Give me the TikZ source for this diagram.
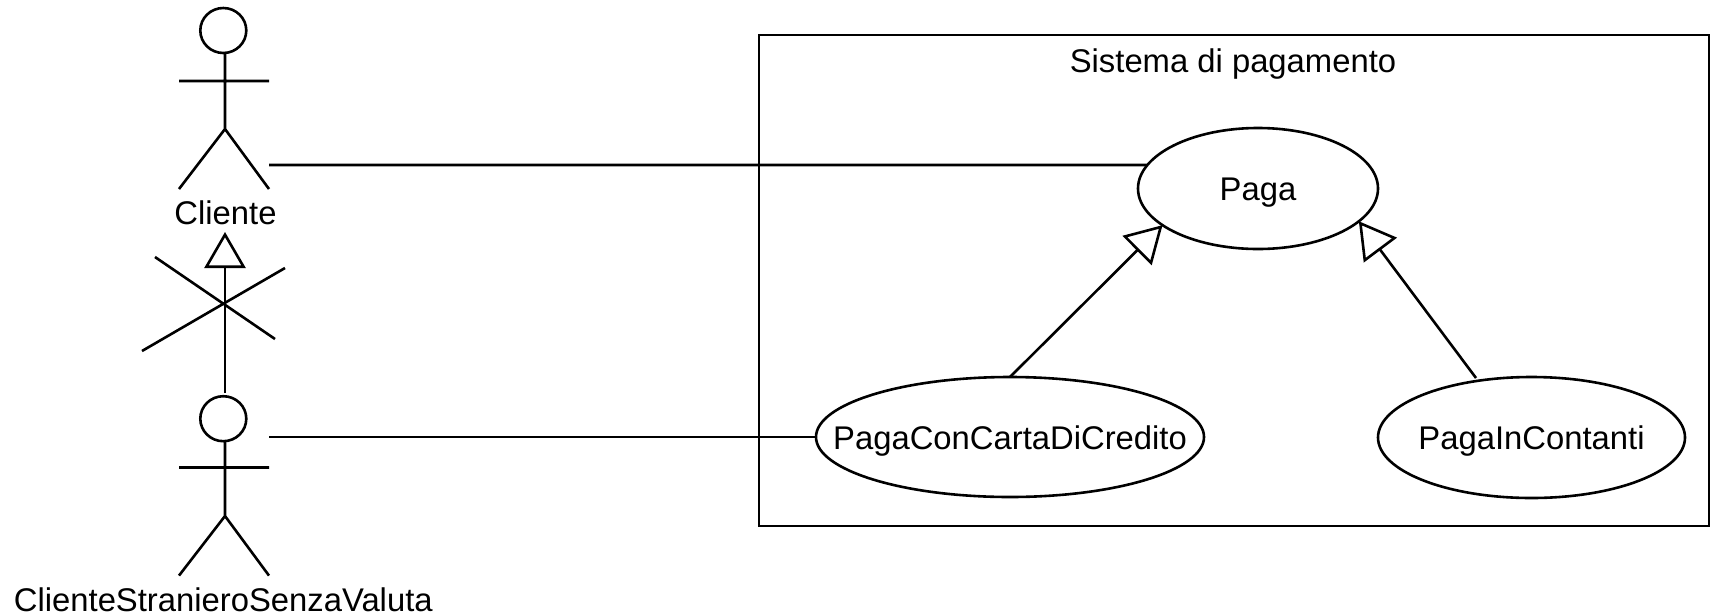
\documentclass[tikz,border=0pt]{standalone}
\usepackage{fontspec}
\setmainfont{Liberation Sans}
\usetikzlibrary{shapes.geometric,arrows.meta}
\newcommand{\casetext}[1]{\makebox[0pt][c]{#1}}
\tikzset{
  every node/.style={font=\fontsize{32.8}{36}\selectfont},
  umlline/.style={line width=2.6pt,draw=black},
  usecase/.style={ellipse,umlline,inner sep=0pt,outer sep=0pt,text height=24pt,text depth=0pt},
  actorhead/.style={ellipse,umlline,inner sep=0pt,outer sep=0pt,minimum width=46pt,minimum height=45pt},
  plainlabel/.style={anchor=base,inner sep=0pt},
  systembox/.style={rectangle,umlline,inner sep=0pt,outer sep=0pt},
  generalize/.style={umlline,-{Triangle[open,fill=white,length=36pt,width=41pt,line width=2.6pt]}}
}
\begin{document}
\begin{tikzpicture}[x=1pt,y=-1pt]
\useasboundingbox (0,0) rectangle (1711,614);
% system
\node[systembox,minimum width=950pt,minimum height=491pt] (sys) at (1234,280.5) {};
\node[plainlabel] (systitle) at (1233,72) {Sistema di pagamento};
% use cases
\node[usecase,minimum width=240pt,minimum height=121pt] (paga) at (1258,188.5) {\casetext{Paga}};
\node[usecase,minimum width=388pt,minimum height=120pt] (carta) at (1010,437) {\casetext{PagaConCartaDiCredito}};
\node[usecase,minimum width=307pt,minimum height=121pt] (contanti) at (1531.5,437.5) {\casetext{PagaInContanti}};
% actor Cliente
\node[actorhead] (h1) at (223.3,30.5) {};
\coordinate (n1) at (225,53);
\coordinate (hip1) at (225,129);
\coordinate (al1) at (179,81);
\coordinate (ar1) at (269,81);
\coordinate (fl1) at (179,189);
\coordinate (fr1) at (269,189);
\draw[umlline] (n1) -- (hip1) (al1) -- (ar1) (fl1) -- (hip1) -- (fr1);
\node[plainlabel] (l1) at (225.5,224) {Cliente};
% actor ClienteStranieroSenzaValuta
\node[actorhead] (h2) at (223.3,418.7) {};
\coordinate (n2) at (225,441.7);
\coordinate (hip2) at (225,516);
\coordinate (al2) at (179,467.5);
\coordinate (ar2) at (269,467.5);
\coordinate (fl2) at (179,575.6);
\coordinate (fr2) at (269,575.6);
\draw[umlline] (n2) -- (hip2) (al2) -- (ar2) (fl2) -- (hip2) -- (fr2);
\node[plainlabel] (l2) at (223.3,611.5) {ClienteStranieroSenzaValuta};
% associations
\coordinate (as1) at (269,165);
\coordinate (as2) at (269,437);
\draw[umlline] (as1) -- (paga.168);
\draw[umlline] (as2) -- (carta.west);
% generalizations
\coordinate (g2) at (225,393);
\coordinate (gt) at (225,232);
\draw[generalize] (g2) -- (gt);
\draw[generalize] (carta.90) -- (paga.201);
\coordinate (cs) at (1476,378);
\draw[generalize] (cs) -- (paga.-18.7);
% forbidden cross
\coordinate (xa) at (155,257);
\coordinate (xb) at (275,339);
\coordinate (xc) at (142,351);
\coordinate (xd) at (285,268);
\draw[umlline] (xa) -- (xb) (xc) -- (xd);
\end{tikzpicture}
\end{document}
